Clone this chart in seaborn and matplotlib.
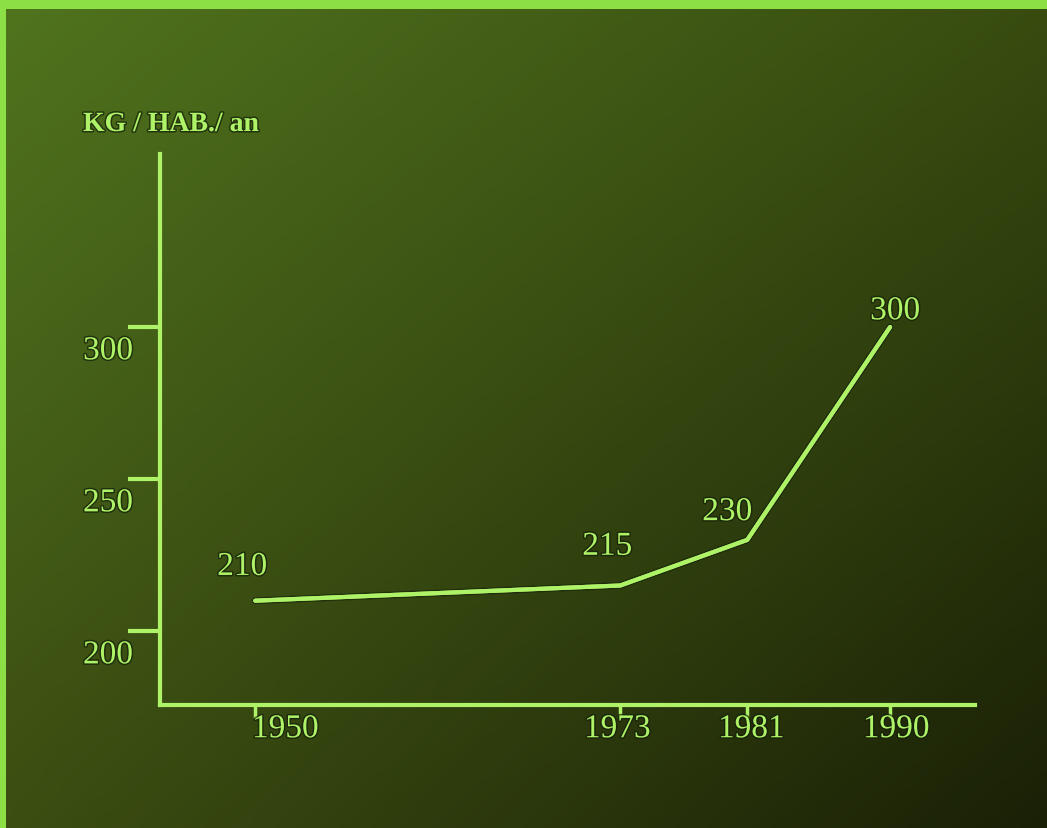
import numpy as np
import pandas as pd
import matplotlib
matplotlib.use("Agg")
import matplotlib.pyplot as plt
import seaborn as sns
from matplotlib import patheffects as pe
from matplotlib.patches import Rectangle

# ---- data ----
years = [1950, 1973, 1981, 1990]
values = [210, 215, 230, 300]
value_labels = ["210", "215", "230", "300"]
year_labels = ["1950", "1973", "1981", "1990"]
y_ticks = [200, 250, 300]
y_tick_labels = ["200", "250", "300"]
unit_label = "KG / HAB./ an"

sns.set_style("ticks")
plt.rcParams["font.family"] = ["Liberation Serif", "DejaVu Serif"]

W, H, DPI = 1047, 829, 100
PX = 72.0 / DPI  # pixels -> points
fg = "#aef267"
border = "#8ce046"
shadow = [pe.withStroke(linewidth=2.2, foreground="#142008", alpha=0.7)]

fig = plt.figure(figsize=(W / DPI, H / DPI), dpi=DPI)

# background gradient
bg = fig.add_axes([0, 0, 1, 1], zorder=0)
tl = np.array([80, 116, 30]); tr = np.array([56, 76, 16])
bl = np.array([60, 78, 18]); br = np.array([26, 32, 6])
u = np.linspace(0, 1, 240); v = np.linspace(0, 1, 190)
U, V = np.meshgrid(u, v)
U = U[..., None]; V = V[..., None]
img = (tl * (1 - U) * (1 - V) + tr * U * (1 - V) + bl * (1 - U) * V + br * U * V) / 255.0
bg.imshow(img, extent=[0, 1, 0, 1], aspect="auto", origin="upper")
bg.set_xlim(0, 1); bg.set_ylim(0, 1)
bg.axis("off")
bg.add_patch(Rectangle((0, 1 - 10 / H), 1, 10 / H, color=border, lw=0))
bg.add_patch(Rectangle((0, 0), 6 / W, 1, color=border, lw=0))

# main axes
ax = fig.add_axes([160 / W, 1 - 706 / H, 815 / W, 551 / H], zorder=1)
ax.patch.set_alpha(0)
df = pd.DataFrame({"year": years, "value": values})
sns.lineplot(data=df, x="year", y="value", ax=ax, color=fg, lw=3,
             path_effects=[pe.withStroke(linewidth=5, foreground="#14200a", alpha=0.6), pe.Normal()])

ax.set_xlim(1944.0, 1995.35)
ax.set_ylim(175.7, 356.9)
ax.grid(False)
ax.set_xlabel(""); ax.set_ylabel("")
for s in ["top", "right"]:
    ax.spines[s].set_visible(False)
for s in ["left", "bottom"]:
    ax.spines[s].set_color(fg)
    ax.spines[s].set_linewidth(3)

ax.set_yticks(y_ticks)
ax.set_yticklabels([])
ax.tick_params(axis="y", length=23, width=3, color=fg, direction="out")
ax.set_xticks(years)
ax.set_xticklabels([])
ax.tick_params(axis="x", length=9, width=2.5, color=fg, direction="out")

for t, lab in zip(y_ticks, y_tick_labels):
    ax.annotate(lab, xy=(0, t), xycoords=("axes fraction", "data"),
                xytext=(-52 * PX, -24 * PX), textcoords="offset points",
                ha="center", va="center", fontsize=24, color=fg, path_effects=shadow)

x_nudge = {"1950": 30, "1973": -3, "1981": 4, "1990": 6}
for yr, lab in zip(years, year_labels):
    ax.annotate(lab, xy=(yr, 0), xycoords=("data", "axes fraction"),
                xytext=(x_nudge[lab] * PX, -24 * PX), textcoords="offset points",
                ha="center", va="center", fontsize=24, color=fg, path_effects=shadow)

lab_off = [(-13, 34), (-13, 39), (-20, 28), (5, 16)]
for yr, val, lab, (dx, dy) in zip(years, values, value_labels, lab_off):
    ax.annotate(lab, xy=(yr, val), xytext=(dx * PX, dy * PX), textcoords="offset points",
                ha="center", va="center", fontsize=24, color=fg, path_effects=shadow)

fig.text(83 / W, 1 - 132 / H, unit_label, ha="left", va="baseline",
         fontsize=20, fontweight="bold", color=fg, path_effects=shadow)

fig.savefig("out.png", dpi=DPI)
